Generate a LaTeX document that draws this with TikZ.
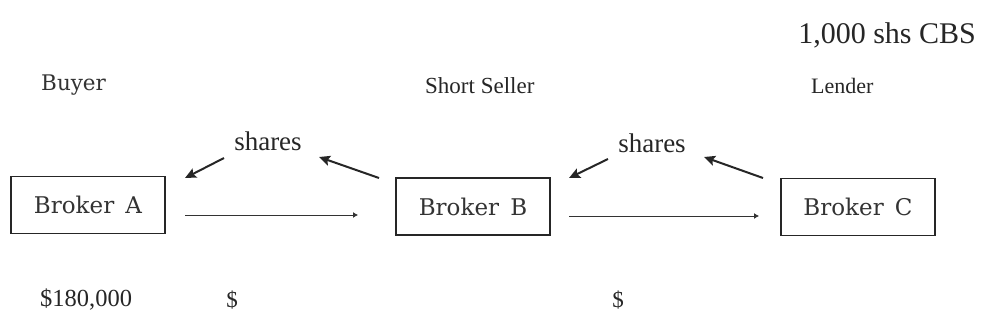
\documentclass[tikz,border=0pt]{standalone}
\usepackage{fontspec}
\setmainfont{Liberation Serif}
\newfontfamily\wideserif{DejaVu Serif}
\usetikzlibrary{arrows.meta}
\begin{document}
\begin{tikzpicture}[x=1pt,y=-1pt,
  lbl/.style={inner sep=0pt,font=\fontsize{23}{25}\selectfont,text=black!85},
  sharelbl/.style={inner sep=0pt,font=\fontsize{27}{29}\selectfont,text=black!85},
  brokerbox/.style={draw=black!85,line width=1.3pt,minimum width=154pt,minimum height=57pt,
    inner sep=0pt,font=\wideserif\fontsize{23}{25}\selectfont,text=black!80},
  flow/.style={draw=black!80,line width=0.9pt,-{Latex[length=5pt,width=6pt]}},
  sharearrow/.style={draw=black!85,line width=2pt,-{Stealth[length=11pt,width=10pt,inset=2pt]}}]
\useasboundingbox (0,0) rectangle (985,330);

% title
\node[inner sep=0pt,font=\fontsize{30}{32}\selectfont,text=black!85,anchor=east] (cbs) at (976,35) {1,000 shs CBS};

% parties
\node[inner sep=0pt,font=\wideserif\fontsize{21.5}{24}\selectfont,text=black!80,anchor=west] (buyer) at (41,85) {Buyer};
\node[lbl,anchor=west] (seller) at (425,86) {Short Seller};
\node[lbl,anchor=west,font=\fontsize{22}{24}\selectfont] (lender) at (811,86) {Lender};

% brokers
\node[brokerbox] (ba) at (88,205) {Broker\ \,A};
\node[brokerbox] (bb) at (473,206.5) {Broker\ \,B};
\node[brokerbox] (bc) at (858,207) {Broker\ \,C};

% share labels
\node[sharelbl] (sh1) at (268,141) {shares};
\node[sharelbl] (sh2) at (652,143) {shares};

% share arrows
\coordinate (s1a) at (224,158);
\coordinate (s1b) at (185,178);
\coordinate (s2a) at (379,178);
\coordinate (s2b) at (319,157);
\coordinate (s3a) at (608,159);
\coordinate (s3b) at (569,178);
\coordinate (s4a) at (763,178);
\coordinate (s4b) at (704,157);
\draw[sharearrow] (s1a) -- (s1b);
\draw[sharearrow] (s2a) -- (s2b);
\draw[sharearrow] (s3a) -- (s3b);
\draw[sharearrow] (s4a) -- (s4b);

% money flows
\coordinate (m1a) at (185,215);
\coordinate (m1b) at (358,215);
\coordinate (m2a) at (569,216);
\coordinate (m2b) at (759,216);
\draw[flow] (m1a) -- (m1b);
\draw[flow] (m2a) -- (m2b);

% amounts
\node[lbl,anchor=west,font=\fontsize{24.5}{26}\selectfont] (amt) at (40,300) {\$180,000};
\node[lbl] (d1) at (232,300) {\$};
\node[lbl] (d2) at (618,300) {\$};
\end{tikzpicture}
\end{document}
